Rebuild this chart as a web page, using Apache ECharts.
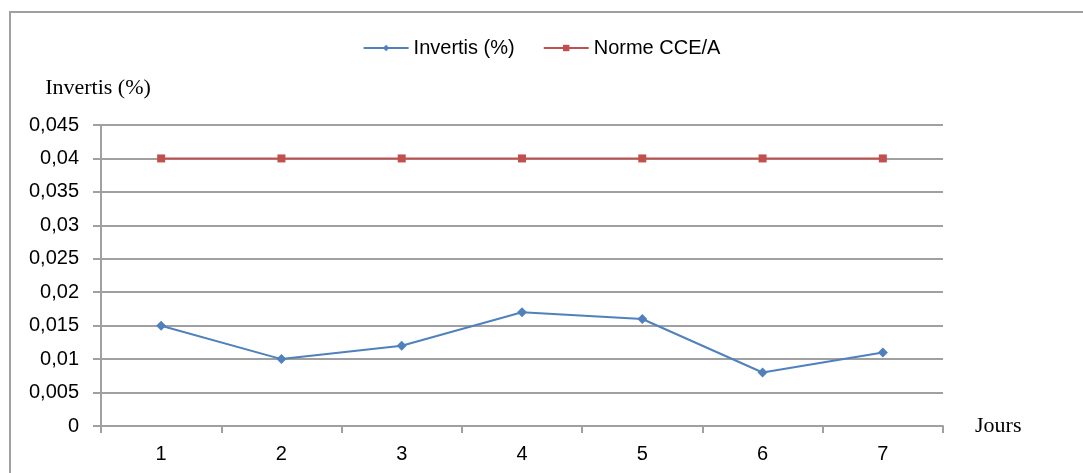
<!DOCTYPE html>
<html>
<head>
<meta charset="utf-8">
<script src="https://cdn.jsdelivr.net/npm/echarts@6/dist/echarts.min.js"></script>
<style>
html,body{margin:0;padding:0;background:#fff;}
#c{width:1083px;height:473px;}
</style>
</head>
<body>
<div id="c"></div>
<script>
const categories = ['1', '2', '3', '4', '5', '6', '7'];
const invertis = [0.015, 0.010, 0.012, 0.017, 0.016, 0.008, 0.011];
const norme = [0.04, 0.04, 0.04, 0.04, 0.04, 0.04, 0.04];
const seriesNames = ['Invertis (%)', 'Norme CCE/A'];
const yAxisName = 'Invertis (%)';
const xAxisName = 'Jours';

const chart = echarts.init(document.getElementById('c'));
const sans = 'Liberation Sans, Arial, sans-serif';
const serif = 'Liberation Serif, Times New Roman, serif';
const gridColor = '#a0a0a0';

chart.setOption({
  animation: false,
  backgroundColor: '#fff',
  graphic: [{
    type: 'rect',
    shape: {x: 10, y: 12, width: 2000, height: 2000},
    style: {fill: 'none', stroke: '#a0a0a0', lineWidth: 2},
    silent: true, z: -10
  }],
  legend: {
    top: 33,
    left: 'center',
    itemWidth: 45,
    itemHeight: 8,
    itemGap: 28,
    textStyle: {fontFamily: sans, fontSize: 20, color: '#000'},
    data: seriesNames
  },
  grid: {left: 101, right: 140, top: 125, bottom: 47, containLabel: false},
  xAxis: {
    type: 'category',
    data: categories,
    boundaryGap: true,
    name: xAxisName,
    nameLocation: 'end',
    nameGap: 32,
    nameTextStyle: {fontFamily: serif, fontSize: 22, color: '#000', verticalAlign: 'middle'},
    axisLine: {lineStyle: {color: gridColor, width: 2}},
    axisTick: {show: true, length: 7, lineStyle: {color: gridColor, width: 2}},
    axisLabel: {fontFamily: sans, fontSize: 20, color: '#000', margin: 18}
  },
  yAxis: {
    type: 'value',
    min: 0,
    max: 0.045,
    interval: 0.005,
    name: yAxisName,
    nameLocation: 'end',
    nameGap: 26,
    nameTextStyle: {fontFamily: serif, fontSize: 22, color: '#000', align: 'center', padding: [0, 6, 0, 0]},
    axisLine: {show: true, lineStyle: {color: gridColor, width: 2}},
    axisTick: {show: true, length: 8, lineStyle: {color: gridColor, width: 2}},
    splitLine: {show: true, lineStyle: {color: gridColor, width: 2}},
    axisLabel: {
      fontFamily: sans, fontSize: 20, color: '#000', margin: 22,
      formatter: v => (v === 0 ? '0' : String(parseFloat(v.toFixed(3))).replace('.', ','))
    }
  },
  series: [{
    name: seriesNames[0],
    type: 'line',
    data: invertis,
    symbol: 'diamond',
    symbolSize: 10,
    itemStyle: {color: '#4f81bd'},
    lineStyle: {color: '#4f81bd', width: 2}
  }, {
    name: seriesNames[1],
    type: 'line',
    data: norme,
    symbol: 'rect',
    symbolSize: 8,
    itemStyle: {color: '#c0504d'},
    lineStyle: {color: '#c0504d', width: 2}
  }]
});
</script>
</body>
</html>
